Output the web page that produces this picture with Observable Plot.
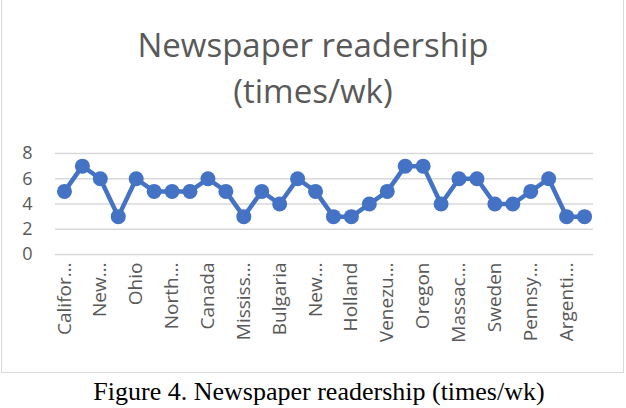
<!DOCTYPE html>
<html><head><meta charset="utf-8">
<script src="https://cdn.jsdelivr.net/npm/d3@7"></script>
<script src="https://cdn.jsdelivr.net/npm/@observablehq/plot@0.6"></script>
<style>
html,body{margin:0;padding:0;background:#fff;width:626px;height:408px;overflow:hidden;}
#wrap{position:relative;width:626px;height:408px;}
#box{position:absolute;left:1px;top:-4px;width:623px;height:377px;border:1.5px solid #d9d9d9;box-sizing:border-box;}
#title{position:absolute;left:0;width:626px;top:22px;text-align:center;font-family:"Open Sans",sans-serif;font-size:33px;line-height:46px;color:#595959;}
#chart{position:absolute;left:0;top:0;}
#caption{position:absolute;left:0;width:638px;top:377px;text-align:center;font-family:"Liberation Serif","Times New Roman",serif;font-size:26px;color:#000;}
</style></head>
<body><div id="wrap"><div id="box"></div><div id="title">Newspaper readership<br>(times/wk)</div><div id="chart"></div><div id="caption">Figure 4. Newspaper readership (times/wk)</div></div>
<script>
const labels = ["Califor…","New…","Ohio","North…","Canada","Mississ…","Bulgaria","New…","Holland","Venezu…","Oregon","Massac…","Sweden","Pennsy…","Argenti…"];
const values = [5,7,6,3,6,5,5,5,6,5,3,5,4,6,5,3,3,4,5,7,7,4,6,6,4,4,5,6,3,3];
const yTicks = [0,2,4,6,8];
const data = values.map((v,i)=>({i, v}));
const idx = values.map((v,i)=>i);
const chart = Plot.plot({
  width: 626, height: 370,
  marginTop: 153, marginBottom: 116, marginLeft: 55, marginRight: 33,
  style: {fontFamily: '"Open Sans", sans-serif', fontSize: "16px", color: "#595959", background: "transparent"},
  x: {type: "band", domain: idx, padding: 0, round: false},
  y: {domain: [0, 8]},
  marks: [
    Plot.ruleY(yTicks, {stroke: "#d9d9d9", strokeWidth: 1.5}),
    Plot.axisY(yTicks, {tickSize: 0, tickPadding: 23, fontSize: 18, fill: "#595959", label: null}),
    Plot.axisX(idx.filter(i => i % 2 === 0), {tickSize: 0, tickPadding: 8, tickRotate: -90, fontSize: 19, fill: "#595959", label: null, tickFormat: i => labels[i/2]}),
    Plot.line(data, {x: "i", y: "v", stroke: "#4472C4", strokeWidth: 4.5}),
    Plot.dot(data, {x: "i", y: "v", r: 7.5, fill: "#4472C4", stroke: "none"})
  ]
});
document.getElementById("chart").appendChild(chart);
</script></body></html>
